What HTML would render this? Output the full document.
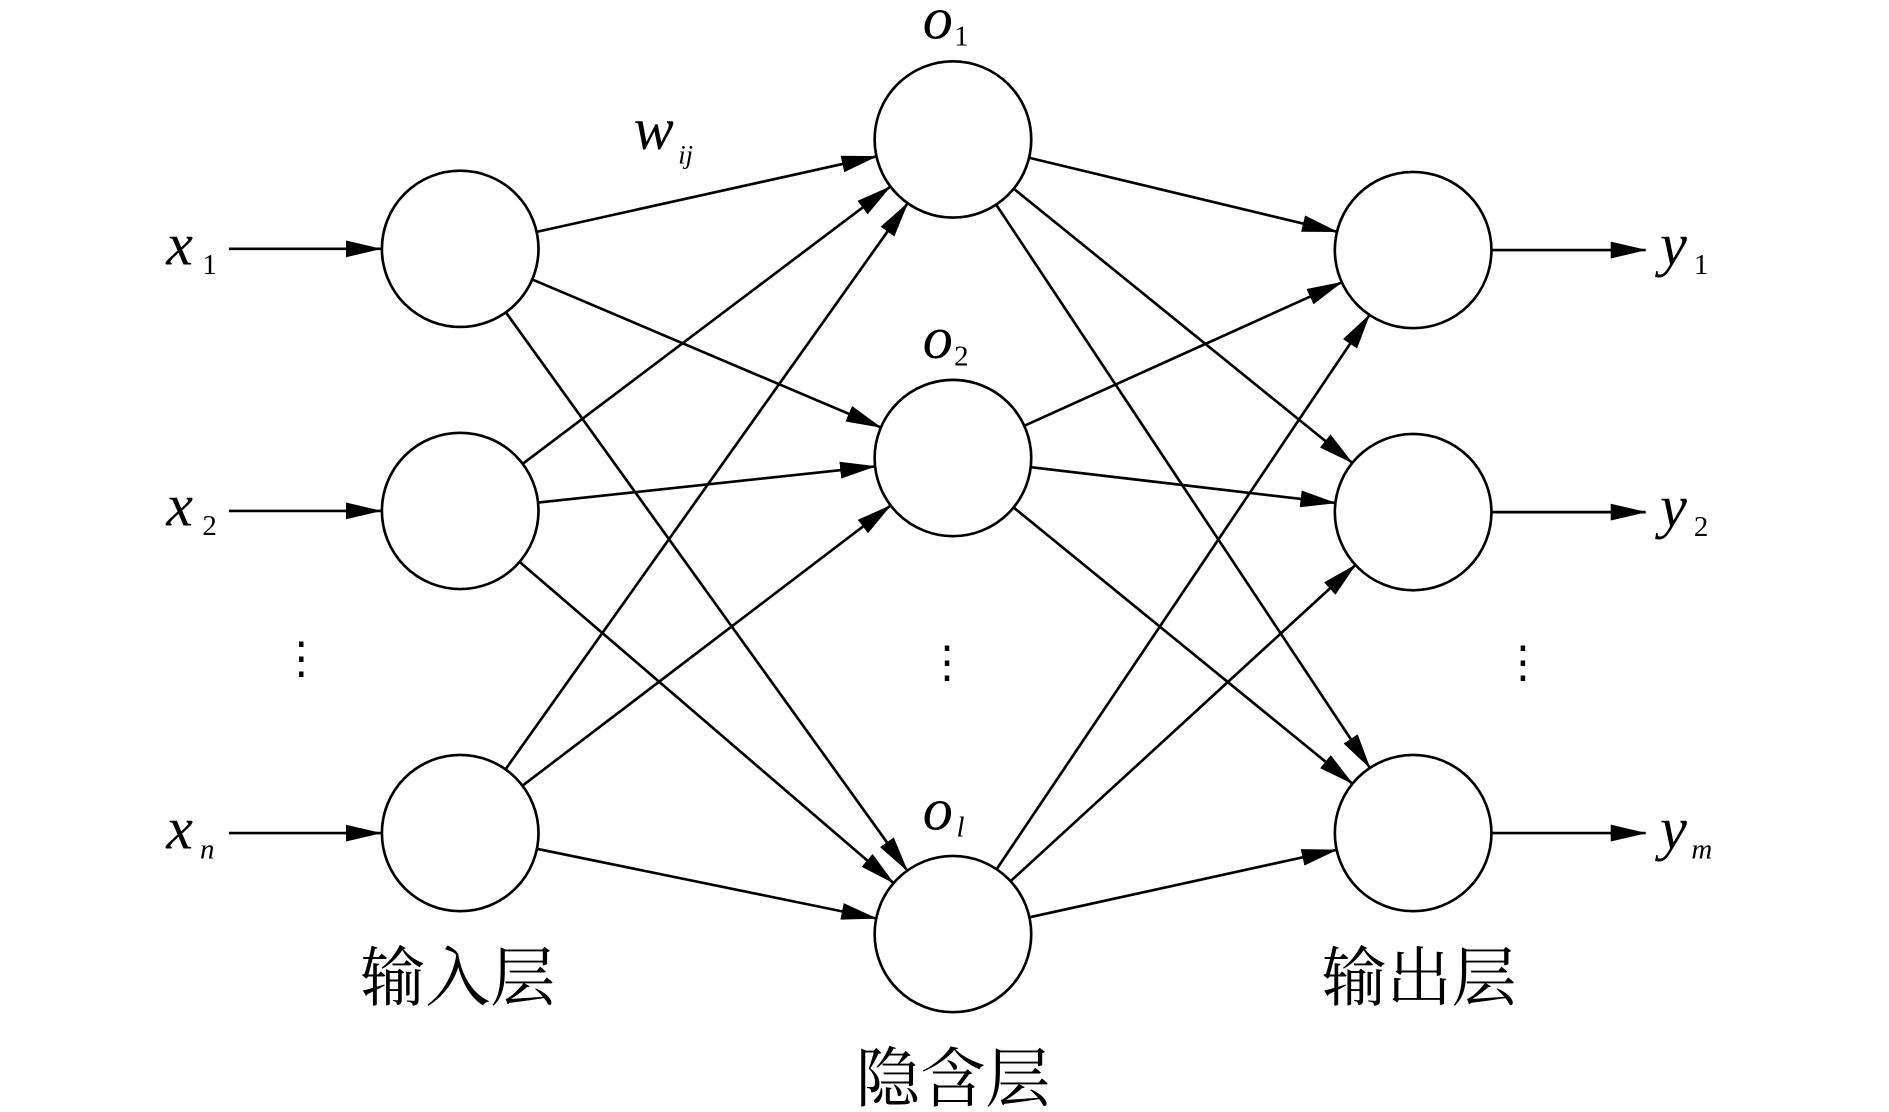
<!DOCTYPE html>
<html><head><meta charset="utf-8"><style>
html,body{margin:0;padding:0;background:#fff}
svg{display:block}
text{font-family:"Liberation Serif","Noto Serif CJK SC",serif;fill:#000}
.it{font-style:italic}
</style></head><body>
<svg id="s" width="1889" height="1112" viewBox="0 0 1568 925" preserveAspectRatio="none" xmlns="http://www.w3.org/2000/svg">
<defs><marker id="a" markerWidth="30" markerHeight="14" refX="29" refY="7" orient="auto" markerUnits="userSpaceOnUse"><path d="M0,0 L30,7 L0,14 Z" fill="#000"/></marker></defs>
<g id="g" stroke="#000" stroke-width="2.2" fill="none"></g>
<g font-size="50">
<text x="138" y="220" class="it">x</text><text x="168" y="228" font-size="24">1</text>
<text x="138" y="437" class="it">x</text><text x="168" y="445" font-size="24">2</text>
<text x="138" y="706" class="it">x</text><text x="166" y="714" font-size="24" class="it">n</text>
<text x="1378" y="220" class="it">y</text><text x="1406" y="228" font-size="24">1</text>
<text x="1378" y="438" class="it">y</text><text x="1406" y="446" font-size="24">2</text>
<text x="1378" y="706" class="it">y</text><text x="1404" y="714" font-size="24" class="it">m</text>
<text x="766" y="32" class="it">o</text><text x="792" y="38" font-size="24">1</text>
<text x="766" y="298" class="it">o</text><text x="792" y="304" font-size="24">2</text>
<text x="766" y="690" class="it">o</text><text x="794" y="696" font-size="24" class="it">l</text>
<text x="526" y="124" class="it">w</text><text x="563" y="136" font-size="22" class="it">ij</text>
</g>
<g font-size="54" font-family="Liberation Serif,Noto Serif CJK SC,serif">
<text x="380" y="832" text-anchor="middle">输入层</text>
<text x="791" y="916" text-anchor="middle">隐含层</text>
<text x="1178" y="832" text-anchor="middle">输出层</text>
</g>
<g font-size="36" text-anchor="middle">
<text x="250" y="560">⋮</text><text x="786" y="563">⋮</text><text x="1264" y="563">⋮</text>
</g>
</svg>
<script>
var g=document.getElementById('g'),ns='http://www.w3.org/2000/svg',R=65;
var I=[[382,207],[382,425],[382,693]],H=[[791,116],[791,381],[791,777]],O=[[1173,208],[1173,426],[1173,693]];
function el(t,a){var e=document.createElementNS(ns,t);for(var k in a)e.setAttribute(k,a[k]);g.appendChild(e);return e;}
function edge(p,q){var dx=q[0]-p[0],dy=q[1]-p[1],d=Math.hypot(dx,dy),ux=dx/d,uy=dy/d;
el('line',{x1:p[0]+ux*R,y1:p[1]+uy*R,x2:q[0]-ux*R,y2:q[1]-uy*R,'marker-end':'url(#a)'});}
I.forEach(function(p){H.forEach(function(q){edge(p,q)})});
H.forEach(function(p){O.forEach(function(q){edge(p,q)})});
[207,425,693].forEach(function(y){el('line',{x1:190,y1:y,x2:316,y2:y,'marker-end':'url(#a)'});});
[208,426,693].forEach(function(y){el('line',{x1:1238,y1:y,x2:1366,y2:y,'marker-end':'url(#a)'});});
I.concat(H,O).forEach(function(c){el('circle',{cx:c[0],cy:c[1],r:R,fill:'#fff'});});
</script>
</body></html>
